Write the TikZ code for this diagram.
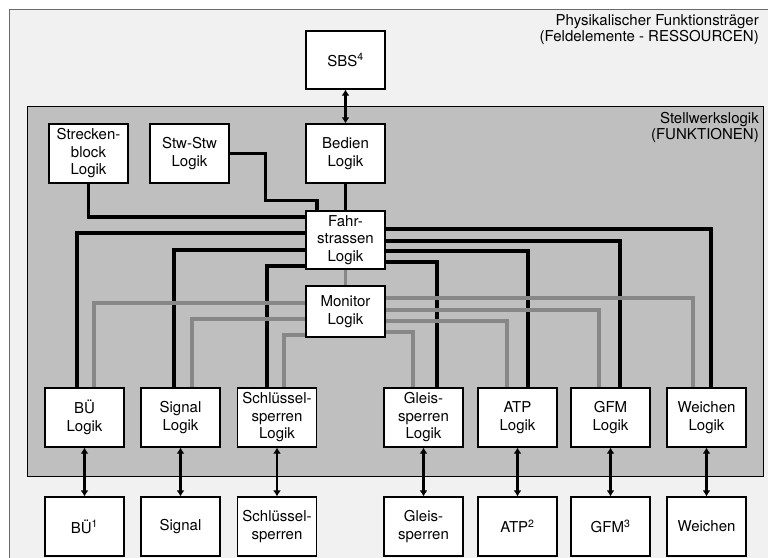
\documentclass[tikz,border=0pt]{standalone}
\usepackage{fontspec}
\setmainfont{TeX Gyre Heros}
\usetikzlibrary{arrows.meta}

\definecolor{outerbg}{HTML}{F1F1F1}
\definecolor{outerline}{HTML}{6A6A6A}
\definecolor{innerbg}{HTML}{BFBFBF}
\definecolor{monline}{HTML}{878787}

\begin{document}
\begin{tikzpicture}[x=1pt, y=-1pt,
    box/.style={draw=black, line width=1.2pt, fill=white, align=center,
        minimum width=79pt, minimum height=59pt, inner sep=2pt,
        font=\fontsize{15}{17.5}\selectfont},
    blk/.style={line width=3.2pt},
    gry/.style={line width=3.2pt, draw=monline},
    link/.style={line width=2.4pt, {Latex[length=6pt,width=8pt]}-{Latex[length=6pt,width=8pt]}},
    title/.style={anchor=north east, align=right, inner sep=0pt,
        font=\fontsize{15}{16.5}\selectfont}]

    \useasboundingbox (0,0) rectangle (768,557);
    \clip (0,0) rectangle (768,557);

    % Areas
    \draw[draw=outerline, line width=1pt, fill=outerbg] (9,9) rectangle (790,590);
    \draw[line width=1pt, fill=innerbg] (27,106) rectangle (763,476);
    \node[title] (restitle) at (759,14) {Physikalischer Funktionsträger\\(Feldelemente - RESSOURCEN)};
    \node[title] (funtitle) at (759,112) {Stellwerkslogik\\(FUNKTIONEN)};

    % Top row
    \node[box, minimum height=58pt] (sbs) at (345.5,60) {SBS\textsuperscript{4}};
    \node[box] (strb) at (88.5,153.5) {Strecken-\\block\\Logik};
    \node[box] (stw) at (189.5,153.5) {Stw-Stw\\Logik};
    \node[box] (bedien) at (345.5,153.5) {Bedien\\Logik};

    % Central logic
    \node[box, minimum height=58pt] (fahr) at (345.5,240) {Fahr-\\strassen\\Logik};
    \node[box, minimum height=51pt] (mon) at (345.5,311.5) {Monitor\\Logik};

    % Element logic
    \node[box] (bue) at (84.5,417.5) {BÜ\\Logik};
    \node[box] (sig) at (180.5,417.5) {Signal\\Logik};
    \node[box] (sch) at (277,417.5) {Schlüssel-\\sperren\\Logik};
    \node[box] (gle) at (423.5,417.5) {Gleis-\\sperren\\Logik};
    \node[box] (atp) at (517.5,417.5) {ATP\\Logik};
    \node[box] (gfm) at (610.5,417.5) {GFM\\Logik};
    \node[box] (wei) at (706.5,417.5) {Weichen\\Logik};

    % Field elements
    \node[box] (bueres) at (84.5,526.5) {BÜ\textsuperscript{1}};
    \node[box] (sigres) at (180.5,526.5) {Signal};
    \node[box] (schres) at (277,526.5) {Schlüssel-\\sperren};
    \node[box] (gleres) at (423.5,526.5) {Gleis-\\sperren};
    \node[box] (atpres) at (517.5,526.5) {ATP\textsuperscript{2}};
    \node[box] (gfmres) at (610.5,526.5) {GFM\textsuperscript{3}};
    \node[box] (weires) at (706.5,526.5) {Weichen};

    % Inputs to Fahrstrassen
    \draw[blk] (strb.south) |- ([yshift=23pt]fahr.west);
    \draw[blk] (stw.east) -- ++(36,0) -- ++(0,47) -| ([xshift=-28.5pt]fahr.north);
    \draw[blk] (bedien.south) -- (fahr.north);

    % Fahrstrassen to element logic
    \draw[blk] ([yshift=7pt]fahr.west) -| ([xshift=-7.5pt]bue.north);
    \draw[blk] ([yshift=-10pt]fahr.west) -| ([xshift=-6.5pt]sig.north);
    \draw[blk] ([yshift=-26pt]fahr.west) -| ([xshift=-10pt]sch.north);
    \draw[blk] ([yshift=11pt]fahr.east) -| ([xshift=4.5pt]wei.north);
    \draw[blk] ([yshift=-1pt]fahr.east) -| ([xshift=9.5pt]gfm.north);
    \draw[blk] ([yshift=-11pt]fahr.east) -| ([xshift=10.5pt]atp.north);
    \draw[blk] ([yshift=-22pt]fahr.east) -| ([xshift=13.5pt]gle.north);

    % Monitor links
    \draw[gry] (fahr.south) -- (mon.north);
    \draw[gry] ([yshift=8.5pt]mon.west) -| ([xshift=9.5pt]bue.north);
    \draw[gry] ([yshift=-7.5pt]mon.west) -| ([xshift=11.5pt]sig.north);
    \draw[gry] ([yshift=-23.5pt]mon.west) -| ([xshift=7pt]sch.north);
    \draw[gry] ([yshift=13.5pt]mon.east) -| ([xshift=-13.5pt]wei.north);
    \draw[gry] ([yshift=1.5pt]mon.east) -| ([xshift=-11.5pt]gfm.north);
    \draw[gry] ([yshift=-9.5pt]mon.east) -| ([xshift=-10.5pt]atp.north);
    \draw[gry] ([yshift=-20.5pt]mon.east) -| ([xshift=-10.5pt]gle.north);

    % Bidirectional links
    \draw[link] (sbs.south) -- (bedien.north);
    \draw[link] (bue.south) -- (bueres.north);
    \draw[link] (sig.south) -- (sigres.north);
    \draw[link] (sch.south) -- (schres.north);
    \draw[link] (gle.south) -- (gleres.north);
    \draw[link] (atp.south) -- (atpres.north);
    \draw[link] (gfm.south) -- (gfmres.north);
    \draw[link] (wei.south) -- (weires.north);
\end{tikzpicture}
\end{document}
